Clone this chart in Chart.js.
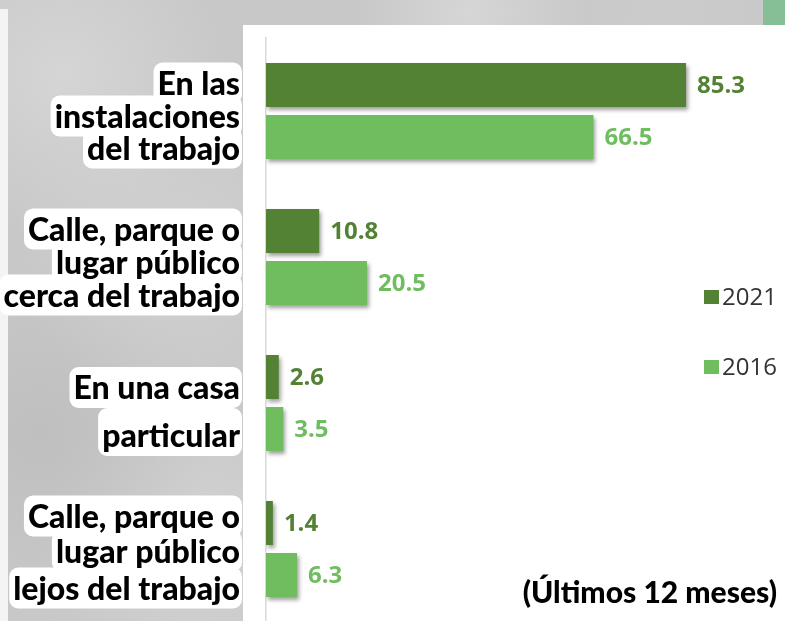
<!DOCTYPE html>
<html><head><meta charset="utf-8">
<script src="https://cdn.jsdelivr.net/npm/chart.js@4.4.1/dist/chart.umd.min.js"></script>
<style>
html,body{margin:0;padding:0;width:785px;height:621px;overflow:hidden;}
body{position:relative;background:#c9c9c9;}
#bg{position:absolute;left:0;top:0;width:785px;height:621px;
 background:
  radial-gradient(circle at 8% 12%, rgba(222,222,222,0.6) 0, rgba(222,222,222,0) 18%),
  radial-gradient(circle at 22% 40%, rgba(212,212,212,0.7) 0, rgba(212,212,212,0) 22%),
  radial-gradient(circle at 5% 70%, rgba(185,185,185,0.6) 0, rgba(185,185,185,0) 20%),
  radial-gradient(circle at 25% 88%, rgba(215,215,215,0.7) 0, rgba(215,215,215,0) 20%),
  radial-gradient(circle at 60% 2%, rgba(220,220,220,0.7) 0, rgba(220,220,220,0) 15%),
  radial-gradient(circle at 85% 3%, rgba(205,205,205,0.7) 0, rgba(205,205,205,0) 15%),
  #c8c8c8;}
#panel{position:absolute;left:243px;top:25px;width:542px;height:596px;background:#fff;}
#strip{position:absolute;left:0;top:9px;width:8px;height:612px;background:#f4f4f4;}
#corner{position:absolute;left:763px;top:0;width:22px;height:25px;background:#86bf95;}
#wrap{position:absolute;left:0;top:0;width:785px;height:630px;}
</style></head>
<body>
<div id="bg"></div><div id="strip"></div><div id="panel"></div><div id="corner"></div>
<div id="wrap"><canvas id="c"></canvas></div>
<script>
// ---- data ----
const categories = ['En las instalaciones del trabajo','Calle, parque o lugar público cerca del trabajo','En una casa particular','Calle, parque o lugar público lejos del trabajo'];
const tickLabels = [
  ['En las','instalaciones','del trabajo'],
  ['Calle, parque o','lugar público','cerca del trabajo'],
  ['En una casa','particular'],
  ['Calle, parque o','lugar público','lejos del trabajo']
];
const seriesNames = ['2021','2016'];
const values2021 = [85.3, 10.8, 2.6, 1.4];
const values2016 = [66.5, 20.5, 3.5, 6.3];
const noteText = '(Últimos 12 meses)';

// ---- styling / layout ----
const colors = ['#548235','#6fbd5f'];
const labelBaselines = [[-16.5,16.5,48.5],[-16.5,16.5,49.5],[-4,44],[-21.5,13.5,50.5]];
const catFont = '900 32px Lato';
const noteFont = '900 30px Lato';

const labelPlugin = {
  id:'catLabels',
  beforeDatasetsDraw(chart){
    const ctx = chart.ctx, y = chart.scales.y;
    ctx.save();
    ctx.font = catFont;
    const right = 240;
    tickLabels.forEach((lines,i)=>{
      const c = y.getPixelForTick(i);
      let prevBottom = null;
      lines.forEach((ln,j)=>{
        const b = c + labelBaselines[i][j];
        const w = ctx.measureText(ln).width;
        let top = b - 32;
        if (prevBottom !== null) top = Math.min(top, prevBottom);
        const bottom = b + 9;
        ctx.fillStyle = '#ffffff';
        ctx.beginPath();
        ctx.roundRect(right - w - 4, top, w + 6, bottom - top, 9);
        ctx.fill();
        prevBottom = bottom;
      });
    });
    ctx.fillStyle = '#000';
    ctx.textAlign = 'right';
    ctx.textBaseline = 'alphabetic';
    tickLabels.forEach((lines,i)=>{
      const c = y.getPixelForTick(i);
      lines.forEach((ln,j)=> ctx.fillText(ln, right, c + labelBaselines[i][j]));
    });
    // note
    ctx.font = noteFont;
    ctx.fillText(noteText, 777, 603);
    ctx.restore();
    // shadow for bars
    ctx.save();
    ctx.shadowColor = 'rgba(0,0,0,0.38)';
    ctx.shadowBlur = 4;
    ctx.shadowOffsetX = 2;
    ctx.shadowOffsetY = 3;
  },
  afterDatasetsDraw(chart){
    const ctx = chart.ctx;
    ctx.restore();
    ctx.save();
    ctx.font = '700 24px "Open Sans"';
    ctx.textBaseline = 'middle';
    ctx.textAlign = 'left';
    chart.data.datasets.forEach((ds,di)=>{
      const meta = chart.getDatasetMeta(di);
      meta.data.forEach((bar,k)=>{
        ctx.fillStyle = colors[di];
        ctx.fillText(ds.data[k].toFixed(1), bar.x + 11, bar.y + 1);
      });
    });
    // legend
    ctx.font = '24px "Open Sans"';
    const legY = [297, 367];
    chart.data.datasets.forEach((ds,di)=>{
      ctx.fillStyle = colors[di];
      ctx.fillRect(704, legY[di]-7, 15, 14);
      ctx.fillStyle = '#333333';
      ctx.fillText(ds.label, 722, legY[di]+1);
    });
    ctx.restore();
  }
};

function make(){
  new Chart(document.getElementById('c'), {
    type:'bar',
    data:{
      labels: categories,
      datasets:[
        {label:seriesNames[0], data:values2021, backgroundColor:colors[0]},
        {label:seriesNames[1], data:values2016, backgroundColor:colors[1]}
      ]
    },
    options:{
      indexAxis:'y',
      responsive:true,
      maintainAspectRatio:false,
      animation:false,
      devicePixelRatio:1,
      categoryPercentage:0.712,
      barPercentage:0.846,
      layout:{padding:{left:266,right:0,top:38,bottom:8}},
      plugins:{legend:{display:false},tooltip:{enabled:false}},
      scales:{
        x:{display:false,min:0,max:105.4},
        y:{
          display:true,
          ticks:{display:false},
          grid:{display:false},
          border:{display:true,color:'#d9d9d9',width:1.5},
          afterFit(s){ s.width = 0; }
        }
      }
    },
    plugins:[labelPlugin]
  });
}
Promise.all([
  document.fonts.load(catFont),
  document.fonts.load('700 24px "Open Sans"'),
  document.fonts.load('24px "Open Sans"')
]).then(make, make);
</script>
</body></html>
